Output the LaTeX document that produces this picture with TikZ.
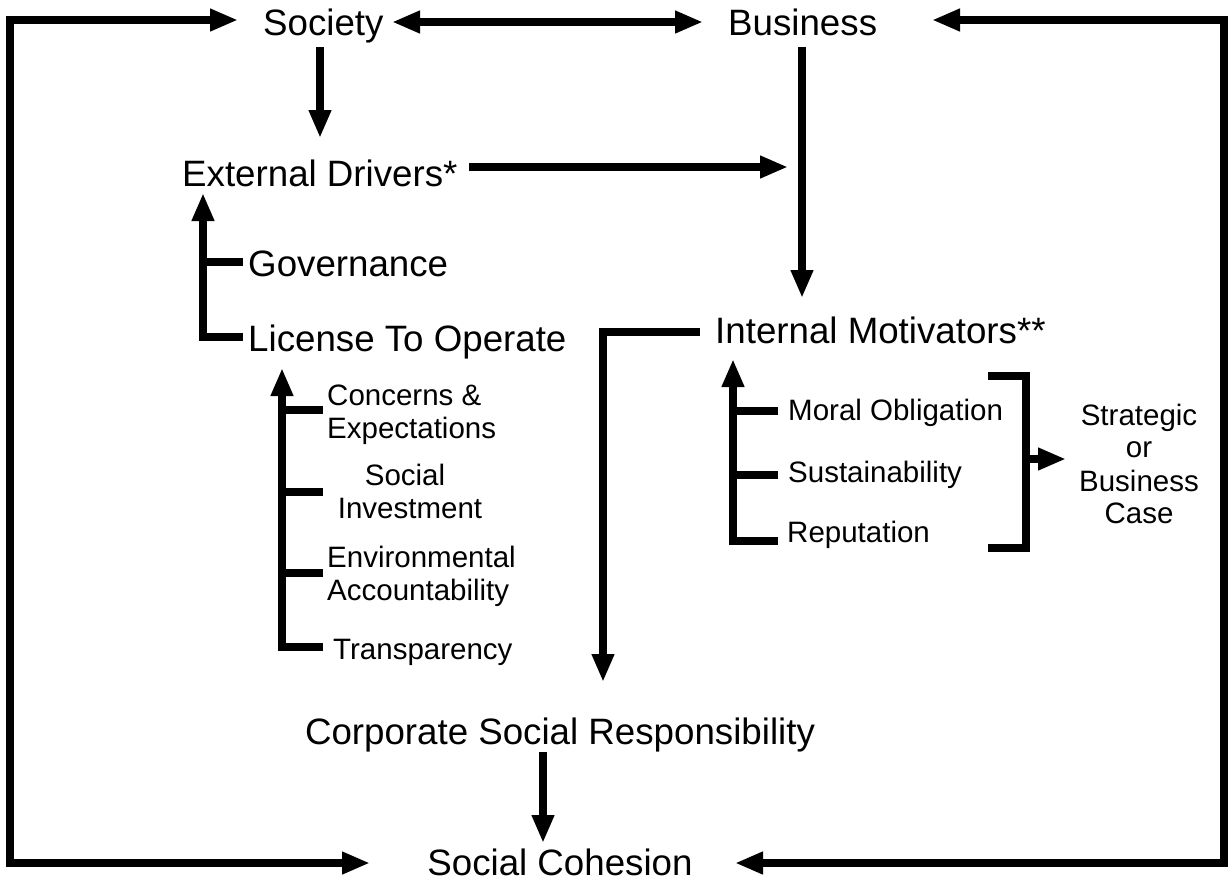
\documentclass[tikz,border=0pt]{standalone}
\usepackage{fontspec}
\setmainfont{Liberation Sans}
\usetikzlibrary{arrows.meta}
\begin{document}
\begin{tikzpicture}[x=1pt,y=-1pt,
  bigtxt/.style={inner sep=0pt,font=\fontsize{36.7}{40}\selectfont},
  smalltxt/.style={inner sep=0pt,font=\fontsize{29.5}{33}\selectfont},
  conn/.style={line width=8.5pt,line join=miter},
  arr/.style={conn,-{Triangle[length=28pt,width=21pt]}},
  darr/.style={conn,{Triangle[length=28pt,width=21pt]}-{Triangle[length=28pt,width=21pt]}}]
\useasboundingbox (0,0) rectangle (1230,884);
\fill[white] (0,0) rectangle (1230,884);

% main labels
\node[bigtxt,anchor=base west] (society) at (263,35) {Society};
\node[bigtxt,anchor=base west] (business) at (728,35) {Business};
\node[bigtxt,anchor=base west] (ext) at (182,186) {External Drivers*};
\node[bigtxt,anchor=base west] (gov) at (248,276) {Governance};
\node[bigtxt,anchor=base west] (lic) at (248,351) {License To Operate};
\node[bigtxt,anchor=base west] (im) at (715,343) {Internal Motivators**};
\node[bigtxt,anchor=base] (csr) at (560,744) {Corporate Social Responsibility};
\node[bigtxt,anchor=base] (coh) at (560,875) {Social Cohesion};

% license items
\node[smalltxt,anchor=base west] (conc1) at (327,405) {Concerns \&};
\node[smalltxt,anchor=base west] (conc2) at (327,438) {Expectations};
\node[smalltxt,anchor=base] (si1) at (405,485) {Social};
\node[smalltxt,anchor=base] (si2) at (410,518) {Investment};
\node[smalltxt,anchor=base west] (env1) at (327,567) {Environmental};
\node[smalltxt,anchor=base west] (env2) at (327,600) {Accountability};
\node[smalltxt,anchor=base west] (tra) at (333,659) {Transparency};

% motivator items
\node[smalltxt,anchor=base west] (mor) at (788,420) {Moral Obligation};
\node[smalltxt,anchor=base west] (sus) at (788,482) {Sustainability};
\node[smalltxt,anchor=base west] (rep) at (787,542) {Reputation};

% strategic case
\node[smalltxt,anchor=base] (sc1) at (1139,425) {Strategic};
\node[smalltxt,anchor=base] (sc2) at (1139,457) {or};
\node[smalltxt,anchor=base] (sc3) at (1139,491) {Business};
\node[smalltxt,anchor=base] (sc4) at (1139,523) {Case};

% connector coordinates
\coordinate (socL) at (238,20);
\coordinate (frTL) at (10,20);
\coordinate (frBL) at (10,863);
\coordinate (cohL) at (370,863);
\coordinate (busR) at (932,20);
\coordinate (frTR) at (1224,20);
\coordinate (frBR) at (1224,863);
\coordinate (cohR) at (735,863);
\coordinate (socR) at (392,22);
\coordinate (busL) at (703,22);
\coordinate (socB) at (320,47);
\coordinate (extT) at (320,138);
\coordinate (extR) at (469,167);
\coordinate (busV) at (788,167);
\coordinate (busB) at (802,47);
\coordinate (imT) at (802,298);
\coordinate (extB) at (203,193);
\coordinate (govL) at (243,262);
\coordinate (govJ) at (203,262);
\coordinate (licL) at (243,337);
\coordinate (licC) at (203,337);
\coordinate (licB) at (282,368);
\coordinate (traL) at (323,647);
\coordinate (traC) at (282,647);
\coordinate (imL) at (700,332);
\coordinate (imC) at (603,332);
\coordinate (csrT) at (603,682);
\coordinate (imB) at (733,359);
\coordinate (repL) at (778,541);
\coordinate (repC) at (733,541);
\coordinate (brTL) at (988,376);
\coordinate (brTR) at (1026,376);
\coordinate (brBR) at (1026,548);
\coordinate (brBL) at (988,548);
\coordinate (brM) at (1026,459);
\coordinate (scL) at (1066,459);
\coordinate (csrB) at (543,752);
\coordinate (cohT) at (543,843);

% frame
\draw[darr] (socL) -- (frTL) -- (frBL) -- (cohL);
\draw[darr] (busR) -- (frTR) -- (frBR) -- (cohR);
% top
\draw[darr] (socR) -- (busL);
\draw[arr] (socB) -- (extT);
\draw[arr] (extR) -- (busV);
\draw[arr] (busB) -- (imT);
% external drivers tree
\draw[arr] (licL) -- (licC) -- (extB);
\draw[conn] (govJ) -- (govL);
% license tree
\draw[arr] (traL) -- (traC) -- (licB);
\draw[conn] (282,410) -- (323,410);
\draw[conn] (282,492) -- (323,492);
\draw[conn] (282,573) -- (323,573);
% internal motivators to CSR
\draw[arr] (imL) -- (imC) -- (csrT);
% motivators tree
\draw[arr] (repL) -- (repC) -- (imB);
\draw[conn] (733,411) -- (778,411);
\draw[conn] (733,475) -- (778,475);
% bracket
\draw[conn] (brTL) -- (brTR) -- (brBR) -- (brBL);
\draw[arr] (brM) -- (scL);
% CSR to cohesion
\draw[arr] (csrB) -- (cohT);
\end{tikzpicture}
\end{document}
